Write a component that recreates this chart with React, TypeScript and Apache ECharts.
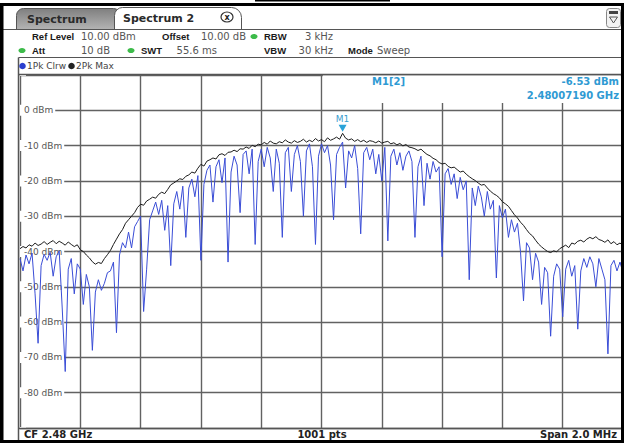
import React, { useEffect, useRef } from "react";
import * as echarts from "echarts";

// Sweep of 1001 points, read every 5th point from the screen
const pointStep = 5;

// Trace 2: Pk Max (dBm)
const maxHoldDbm = [
  -39.2, -38.6, -39.0, -38.1, -38.5, -37.6, -38.3, -37.9, -37.2, -38.0,
  -37.4, -36.9, -37.8, -37.1, -37.6, -38.2, -37.3, -38.0, -38.6, -38.1,
  -39.5, -40.0, -41.0, -41.8, -42.9, -43.6, -43.1, -43.4, -42.0, -40.9,
  -39.7, -38.0, -36.5, -35.0, -33.8, -32.0, -31.0, -30.0, -29.0, -27.5,
  -26.6, -26.9, -25.7, -25.2, -24.6, -24.9, -23.8, -23.2, -23.6, -22.4,
  -21.1, -20.6, -20.0, -19.4, -19.6, -18.7, -18.3, -17.5, -17.8, -16.4,
  -15.3, -15.8, -14.4, -14.0, -13.5, -13.8, -12.6, -12.3, -12.8, -11.9,
  -11.8, -11.3, -11.7, -10.9, -11.0, -10.4, -10.8, -9.9, -10.3, -9.6,
  -9.8, -9.1, -9.6, -8.7, -9.3, -9.5, -8.9, -9.2, -8.4, -9.0,
  -9.3, -8.6, -9.1, -8.8, -8.2, -9.0, -8.5, -8.9, -8.0, -8.7,
  -8.3, -8.9, -7.8, -8.5, -8.1, -7.6, -8.2, -6.53, -7.9, -8.4,
  -8.1, -8.8, -8.3, -8.9, -8.5, -9.1, -8.6, -8.8, -9.2, -8.7,
  -9.3, -9.0, -8.8, -9.5, -9.2, -9.8, -9.4, -10.1, -9.7, -10.4,
  -10.6, -10.9, -11.4, -11.0, -11.8, -12.5, -12.9, -13.6, -14.0, -14.8,
  -15.2, -15.0, -15.9, -16.3, -16.1, -16.8, -17.5, -17.2, -18.1, -18.8,
  -19.4, -19.9, -20.6, -21.2, -21.0, -22.0, -22.9, -23.6, -24.1, -24.8,
  -25.9, -26.5, -27.2, -28.4, -29.6, -30.5, -31.7, -32.6, -33.8, -34.9,
  -35.6, -36.8, -37.9, -38.7, -39.4, -40.0, -40.3, -39.8, -40.1, -39.2,
  -38.7, -38.2, -38.9, -37.6, -37.9, -37.1, -36.8, -37.3, -36.5, -36.0,
  -36.4, -35.8, -36.6, -36.9, -37.4, -36.7, -37.8, -37.2, -38.1, -37.6,
  -38.3,
];

// Trace 1: Pk Clear/Write (dBm)
const clearWriteDbm = [
  -42.0, -45.5, -41.0, -43.5, -40.5, -52.0, -66.0, -44.0, -40.8, -42.5,
  -40.2, -47.0, -41.5, -39.8, -56.0, -74.0, -45.0, -42.0, -52.0, -43.5,
  -45.0, -55.0, -46.5, -50.0, -68.0, -51.5, -48.0, -51.0, -49.0, -46.0,
  -45.5, -43.0, -63.0, -41.0, -37.5, -39.0, -34.5, -39.0, -33.0, -31.5,
  -30.0, -57.0, -45.0, -31.0, -28.5, -26.0, -29.5, -25.5, -34.0, -27.0,
  -44.0, -26.5, -23.0, -28.0, -21.5, -36.0, -22.0, -19.5, -24.5, -18.5,
  -42.5, -21.0, -17.0, -15.5, -26.0, -16.0, -14.0, -20.5, -13.5, -43.0,
  -17.5, -13.0, -15.5, -29.0, -12.5, -11.5, -18.0, -11.0, -38.0, -14.5,
  -11.0, -16.0, -10.5, -13.5, -23.0, -11.0, -15.0, -36.0, -12.0, -10.5,
  -23.0, -12.5, -10.0, -14.5, -30.0, -11.5, -9.5, -16.0, -38.0, -13.0,
  -9.5, -12.0, -10.0, -15.5, -31.0, -12.5, -10.5, -9.0, -22.0, -11.5,
  -13.5, -10.0, -16.5, -35.0, -12.0, -10.5, -14.0, -11.0, -18.0, -12.5,
  -20.0, -10.5, -37.0, -13.0, -11.0, -15.5, -12.0, -17.0, -13.0, -11.5,
  -14.5, -36.0, -16.0, -13.0, -27.0, -15.0, -19.5, -14.5, -17.5, -16.0,
  -41.5, -18.0, -16.5, -21.0, -18.0, -25.0, -19.0, -22.5, -20.0, -48.0,
  -22.0, -27.0, -21.5, -24.5, -30.0, -23.0, -28.0, -25.5, -47.5, -27.0,
  -30.5, -28.0, -36.0, -31.0, -34.5, -32.0, -40.0, -54.0, -37.5, -39.0,
  -48.0, -40.5, -43.0, -55.0, -44.5, -46.0, -64.0, -47.0, -43.5, -45.0,
  -58.5, -45.0, -42.5, -47.0, -44.0, -62.0, -45.5, -42.0, -44.5, -41.5,
  -43.5, -50.0, -42.0, -45.0, -48.0, -69.0, -44.0, -42.5, -45.5, -43.0,
  -46.0,
];

const yTickLabels = [0, -10, -20, -30, -40, -50, -60, -70, -80];
const markerIndex = 535;
const markerLevel = -6.53;
const markerLabel = "M1[2]";
const markerLevelText = "-6.53 dBm";
const markerFreqText = "2.48007190 GHz";

const FONT = "DejaVu Sans";
const BOLD_FONT = "Liberation Sans";

function txt(x: number, y: number, text: string, o: any = {}) {
  return {
    type: "text",
    x,
    y,
    z: 20,
    style: {
      text,
      fill: o.fill || "#555",
      fontFamily: o.family || FONT,
      fontSize: o.size || 10,
      fontWeight: o.bold ? "bold" : "normal",
      align: o.align || "left",
      verticalAlign: "middle",
    },
  };
}
const bold = (x: number, y: number, t: string, o: any = {}) =>
  txt(x, y, t, { bold: true, fill: "#1a1a1a", size: 9.5, family: BOLD_FONT, ...o });

export default function App() {
  const ref = useRef<HTMLDivElement>(null);
  useEffect(() => {
    if (!ref.current) return;
    const chart = echarts.init(ref.current, undefined, { renderer: "svg" });
    const maxPts = maxHoldDbm.map((v, i) => [i * pointStep, v]);
    const clrwPts = clearWriteDbm.map((v, i) => [i * pointStep, v]);
    const gridLine = { color: "#626262", width: 1.4 };
    const green = "#3dbb4a";

    const graphic: any[] = [
      // outer black borders
      { type: "rect", z: 30, shape: { x: 255, y: 0, width: 135, height: 1.5 }, style: { fill: "#000" } },
      { type: "rect", z: 30, shape: { x: 0, y: 3, width: 624, height: 3 }, style: { fill: "#000" } },
      { type: "rect", z: 30, shape: { x: 0, y: 3, width: 3.5, height: 440 }, style: { fill: "#000" } },
      { type: "rect", z: 30, shape: { x: 621, y: 3, width: 3, height: 440 }, style: { fill: "#000" } },
      { type: "rect", z: 30, shape: { x: 0, y: 440, width: 624, height: 3 }, style: { fill: "#000" } },
      // tabs
      {
        type: "rect", z: 10,
        shape: { x: 16.5, y: 8.5, width: 104, height: 21, r: [7, 7, 0, 0] },
        style: {
          fill: new echarts.graphic.LinearGradient(0, 0, 0, 1, [
            { offset: 0, color: "#7f7f7f" },
            { offset: 1, color: "#b4b4b4" },
          ]),
          stroke: "#555", lineWidth: 1,
        },
      },
      {
        type: "rect", z: 11,
        shape: { x: 114.5, y: 7.5, width: 127, height: 22, r: [8, 10, 0, 0] },
        style: { fill: "#fff", stroke: "#555", lineWidth: 1 },
      },
      { type: "line", z: 12, shape: { x1: 3, y1: 29.5, x2: 621, y2: 29.5 }, style: { stroke: "#555", lineWidth: 1 } },
      txt(27, 19, "Spectrum", { bold: true, size: 11, fill: "#2a2a2a" }),
      txt(123, 18.5, "Spectrum 2", { bold: true, size: 11, fill: "#2a2a2a" }),
      { type: "ellipse", z: 20, shape: { cx: 227, cy: 17, rx: 6, ry: 5 }, style: { fill: "#fff", stroke: "#333", lineWidth: 1.2 } },
      txt(227, 17, "x", { bold: true, size: 8, fill: "#222", align: "center" }),
      // right-top icon
      { type: "rect", z: 20, shape: { x: 606.5, y: 8.5, width: 14, height: 19, r: 3 }, style: { fill: "#f2f2f2", stroke: "#888", lineWidth: 1 } },
      { type: "rect", z: 21, shape: { x: 609, y: 11, width: 9, height: 3 }, style: { fill: "#444" } },
      { type: "polygon", z: 21, shape: { points: [[609.5, 17], [617.5, 17], [613.5, 23]] }, style: { fill: "none", stroke: "#555", lineWidth: 1 } },
      // info rows
      bold(32, 36, "Ref Level"),
      txt(81, 36, "10.00 dBm"),
      bold(162, 36, "Offset"),
      txt(201, 36, "10.00 dB"),
      { type: "ellipse", z: 20, shape: { cx: 254, cy: 36.5, rx: 3.5, ry: 2.6 }, style: { fill: green } },
      bold(264, 36, "RBW"),
      txt(333, 36, "3 kHz", { align: "right" }),
      { type: "ellipse", z: 20, shape: { cx: 22, cy: 50.5, rx: 3.5, ry: 2.6 }, style: { fill: green } },
      bold(32, 50, "Att"),
      txt(110, 50, "10 dB", { align: "right" }),
      { type: "ellipse", z: 20, shape: { cx: 131, cy: 50.5, rx: 3.5, ry: 2.6 }, style: { fill: green } },
      bold(141, 50, "SWT"),
      txt(217, 50, "55.6 ms", { align: "right" }),
      bold(264, 50, "VBW"),
      txt(333, 50, "30 kHz", { align: "right" }),
      bold(348, 50, "Mode"),
      txt(377, 50, "Sweep"),
      // frame
      { type: "line", z: 12, shape: { x1: 18.5, y1: 57.5, x2: 621, y2: 57.5 }, style: { stroke: "#555", lineWidth: 1 } },
      { type: "line", z: 12, shape: { x1: 18.5, y1: 57.5, x2: 18.5, y2: 441 }, style: { stroke: "#555", lineWidth: 1.5 } },
      { type: "line", z: 12, shape: { x1: 18.5, y1: 74.5, x2: 621, y2: 74.5 }, style: { stroke: "#555", lineWidth: 1.4 } },
      { type: "line", z: 12, shape: { x1: 18.5, y1: 428.5, x2: 621, y2: 428.5 }, style: { stroke: "#555", lineWidth: 1.4 } },
      // legend
      { type: "circle", z: 20, shape: { cx: 22.5, cy: 66, r: 3.3 }, style: { fill: "#2b3fcf" } },
      txt(27, 66, "1Pk Clrw", { size: 9, fill: "#444" }),
      { type: "circle", z: 20, shape: { cx: 71.5, cy: 66, r: 3.3 }, style: { fill: "#222" } },
      txt(76, 66, "2Pk Max", { size: 9, fill: "#444" }),
      // marker info box
      { type: "rect", z: 8, shape: { x: 322.8, y: 75.3, width: 298, height: 27.7 }, style: { fill: "#fff" } },
      txt(372, 81.5, markerLabel, { bold: true, size: 10, fill: "#2f9ad3" }),
      txt(619, 81.5, markerLevelText, { bold: true, size: 10, fill: "#2f9ad3", align: "right" }),
      txt(619, 95.5, markerFreqText, { bold: true, size: 10, fill: "#2f9ad3", align: "right" }),
      // bottom row
      txt(24, 434.5, "CF 2.48 GHz", { bold: true, size: 10, fill: "#222" }),
      txt(322, 434.5, "1001 pts", { bold: true, size: 10, fill: "#222", align: "center" }),
      txt(617, 434.5, "Span 2.0 MHz", { bold: true, size: 10, fill: "#222", align: "right" }),
    ];

    chart.setOption({
      animation: false,
      backgroundColor: "#fff",
      grid: { left: 20, top: 75, width: 603, height: 353, show: false },
      xAxis: {
        type: "value", min: 0, max: 1000, interval: 100,
        axisLine: { show: false }, axisTick: { show: false }, axisLabel: { show: false },
        splitLine: { show: true, lineStyle: gridLine },
      },
      yAxis: {
        type: "value", min: -90, max: 10, interval: 10,
        axisLine: { show: false }, axisTick: { show: false },
        splitLine: { show: true, lineStyle: gridLine },
        axisLabel: {
          inside: true, margin: 0,
          formatter: (v: number) => (yTickLabels.includes(v) ? `${v} dBm` : ""),
          color: "#555", fontFamily: FONT, fontSize: 9,
          backgroundColor: "#fff", padding: [1, 2, 1, 4],
        },
      },
      series: [
        {
          type: "line", name: "2Pk Max", data: maxPts, symbol: "none",
          lineStyle: { color: "#1c1c1c", width: 1 },
          markPoint: {
            symbol: "triangle", symbolRotate: 180, symbolSize: [8, 7], symbolOffset: [0, -5],
            itemStyle: { color: "#2aa3d8" },
            label: { show: true, position: "top", formatter: "M1", color: "#3aa0d0", fontFamily: FONT, fontSize: 9, distance: 1 },
            data: [{ coord: [markerIndex, markerLevel] }],
          },
        },
        {
          type: "line", name: "1Pk Clrw", data: clrwPts, symbol: "none",
          lineStyle: { color: "#3a4dd6", width: 1 },
        },
      ],
      graphic,
    });
    return () => chart.dispose();
  }, []);
  return <div ref={ref} style={{ position: "absolute", left: 0, top: 0, width: 624, height: 443 }} />;
}
